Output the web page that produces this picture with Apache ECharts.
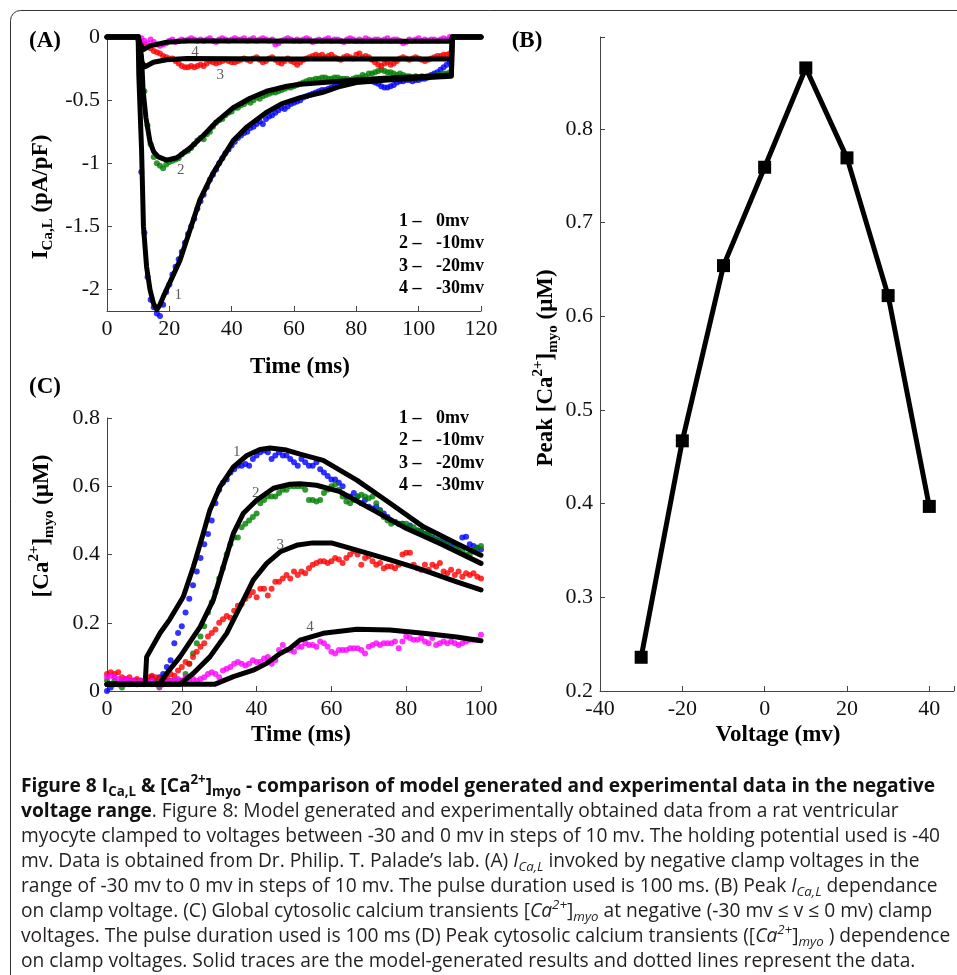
<!DOCTYPE html>
<html>
<head>
<meta charset="utf-8">
<script src="https://cdn.jsdelivr.net/npm/echarts@6/dist/echarts.min.js"></script>
<style>
  html, body { margin: 0; padding: 0; background: #fff; }
  #chart { width: 957px; height: 975px; }
</style>
</head>
<body>
<div id="chart"></div>
<script>
// ---- data ----------------------------------------------------------
const labelsA = ['1 –', '2 –', '3 –', '4 –'];
const voltsA = ['0mv', '-10mv', '-20mv', '-30mv'];

// (A) model I_Ca,L traces, [time ms, pA/pF]
const modelA0 = [[0,0],[10,0],[10.2,-0.3],[11.1,-0.9],[11.7,-1.5],[12.7,-1.82],[13.8,-2.0],[14.9,-2.11],[16,-2.16],[17,-2.12],[18,-2.06],[19.1,-2.0],[21,-1.9],[23.4,-1.77],[26.6,-1.53],[29.8,-1.29],[34,-1.08],[38,-0.92],[40.5,-0.82],[45,-0.71],[51,-0.6],[56,-0.53],[62,-0.48],[69,-0.44],[75,-0.39],[80,-0.36],[90,-0.34],[100,-0.325],[110.5,-0.31],[110.8,0],[120,0]];
const modelA10 = [[0,0],[10,0],[10.6,-0.01],[11.1,-0.17],[11.6,-0.43],[12.5,-0.64],[13.8,-0.83],[15,-0.91],[16.5,-0.95],[19.1,-0.975],[22.4,-0.956],[26.6,-0.88],[30.9,-0.78],[35.2,-0.67],[40.5,-0.56],[45.9,-0.485],[51.2,-0.43],[57.7,-0.39],[62,-0.375],[69.4,-0.36],[80,-0.34],[90,-0.325],[100,-0.315],[110.5,-0.3],[110.8,0],[120,0]];
const modelA20 = [[0,0],[10,0],[10.5,-0.05],[11.2,-0.2],[12.2,-0.235],[14.9,-0.2],[19.1,-0.18],[25.6,-0.17],[40,-0.172],[60,-0.174],[80,-0.175],[110.5,-0.175],[110.8,0],[120,0]];
const modelA30 = [[0,0],[10,0],[10.5,-0.05],[11.7,-0.1],[13.8,-0.07],[19.1,-0.042],[25,-0.032],[50,-0.032],[80,-0.033],[110.5,-0.033],[110.8,0],[120,0]];

// (A) measured points, one per ms from 10 to 110
const timeDotsA = [
  10,11,12,13,14,15,16,17,18,19, 20,21,22,23,24,25,26,27,28,29,
  30,31,32,33,34,35,36,37,38,39, 40,41,42,43,44,45,46,47,48,49,
  50,51,52,53,54,55,56,57,58,59, 60,61,62,63,64,65,66,67,68,69,
  70,71,72,73,74,75,76,77,78,79, 80,81,82,83,84,85,86,87,88,89,
  90,91,92,93,94,95,96,97,98,99, 100,101,102,103,104,105,106,107,108,109,110
];
const dotsA0 = [
  0,-1.07,-1.55,-1.9,-2.08,-2.14,-2.19,-2.21,-2.12,-2.02,
  -1.96,-1.88,-1.82,-1.76,-1.7,-1.63,-1.56,-1.5,-1.44,-1.36,
  -1.3,-1.25,-1.19,-1.13,-1.09,-1.05,-1.0,-0.96,-0.92,-0.89,
  -0.86,-0.83,-0.8,-0.78,-0.76,-0.75,-0.72,-0.71,-0.69,-0.67,
  -0.69,-0.65,-0.63,-0.62,-0.6,-0.58,-0.56,-0.57,-0.55,-0.53,
  -0.52,-0.51,-0.5,-0.48,-0.47,-0.46,-0.45,-0.44,-0.43,-0.42,
  -0.42,-0.41,-0.4,-0.39,-0.38,-0.38,-0.37,-0.37,-0.36,-0.35,
  -0.34,-0.35,-0.33,-0.34,-0.35,-0.35,-0.36,-0.37,-0.39,-0.4,
  -0.4,-0.39,-0.38,-0.36,-0.35,-0.35,-0.34,-0.34,-0.35,-0.34,
  -0.34,-0.33,-0.33,-0.32,-0.3,-0.29,-0.28,-0.26,-0.24,-0.22,-0.2
];
const dotsA10 = [
  -0.02,-0.25,-0.43,-0.7,-0.85,-0.95,-1.0,-1.02,-1.04,-1.01,
  -0.99,-0.98,-0.97,-0.96,-0.93,-0.91,-0.9,-0.88,-0.85,-0.82,
  -0.8,-0.81,-0.77,-0.75,-0.71,-0.68,-0.66,-0.65,-0.62,-0.6,
  -0.59,-0.56,-0.56,-0.54,-0.53,-0.51,-0.52,-0.5,-0.48,-0.49,
  -0.47,-0.46,-0.45,-0.44,-0.44,-0.43,-0.42,-0.41,-0.4,-0.4,
  -0.39,-0.38,-0.37,-0.36,-0.35,-0.34,-0.34,-0.33,-0.33,-0.32,
  -0.32,-0.33,-0.33,-0.32,-0.32,-0.33,-0.33,-0.33,-0.34,-0.33,
  -0.32,-0.32,-0.3,-0.31,-0.29,-0.29,-0.28,-0.27,-0.26,-0.27,
  -0.28,-0.28,-0.29,-0.3,-0.29,-0.3,-0.31,-0.31,-0.32,-0.31,
  -0.32,-0.31,-0.32,-0.31,-0.31,-0.31,-0.3,-0.3,-0.29,-0.29,-0.28
];
const dotsA20 = [
  0,-0.05,-0.06,-0.08,-0.09,-0.11,-0.12,-0.13,-0.15,-0.16,
  -0.17,-0.17,-0.19,-0.21,-0.23,-0.24,-0.24,-0.23,-0.24,-0.23,
  -0.22,-0.23,-0.21,-0.19,-0.2,-0.21,-0.2,-0.19,-0.18,-0.19,
  -0.2,-0.2,-0.19,-0.18,-0.17,-0.18,-0.19,-0.17,-0.16,-0.18,
  -0.2,-0.19,-0.17,-0.16,-0.18,-0.2,-0.21,-0.19,-0.17,-0.19,
  -0.2,-0.22,-0.2,-0.18,-0.17,-0.16,-0.15,-0.14,-0.15,-0.14,
  -0.16,-0.15,-0.14,-0.16,-0.17,-0.18,-0.16,-0.15,-0.16,-0.17,
  -0.14,-0.13,-0.16,-0.15,-0.16,-0.18,-0.2,-0.22,-0.23,-0.21,
  -0.2,-0.22,-0.21,-0.19,-0.17,-0.16,-0.17,-0.18,-0.17,-0.16,
  -0.17,-0.18,-0.19,-0.18,-0.17,-0.16,-0.15,-0.15,-0.14,-0.14,-0.13
];
const dotsA30 = [
  0,-0.01,-0.03,-0.05,-0.02,-0.04,-0.06,-0.07,-0.06,-0.05,
  -0.03,-0.02,-0.04,-0.03,-0.02,-0.03,-0.02,-0.01,-0.02,-0.03,
  -0.02,-0.03,-0.02,-0.01,-0.03,-0.04,-0.02,-0.01,-0.02,-0.03,
  -0.02,-0.01,-0.02,-0.02,-0.01,-0.03,-0.02,-0.01,-0.03,-0.02,
  -0.01,-0.02,-0.03,-0.02,-0.06,-0.05,-0.03,-0.02,-0.01,-0.02,
  -0.03,-0.02,-0.03,-0.02,-0.01,-0.02,-0.04,-0.03,-0.02,-0.03,
  -0.02,-0.01,-0.03,-0.02,-0.02,-0.03,-0.04,-0.02,-0.01,-0.02,
  -0.03,-0.02,-0.03,-0.01,-0.02,-0.03,-0.02,-0.02,-0.03,-0.02,
  -0.01,-0.03,-0.02,-0.02,-0.03,-0.05,-0.04,-0.02,-0.03,-0.02,
  -0.01,-0.03,-0.02,-0.03,-0.02,-0.02,-0.03,-0.02,-0.01,-0.02,0
];

// (B) peak [Ca2+]myo vs clamp voltage
const voltagesB = [-30, -20, -10, 0, 10, 20, 30, 40];
const peakCaB = [0.236, 0.467, 0.654, 0.759, 0.865, 0.769, 0.622, 0.397];

// (C) model [Ca2+]myo traces, [time ms, uM]
const modelC0 = [[0,0.02],[10.2,0.02],[10.6,0.1],[14.2,0.17],[16.8,0.21],[20.4,0.276],[23.1,0.364],[25.7,0.46],[27.5,0.53],[30.2,0.598],[33.8,0.657],[37.4,0.69],[40.9,0.708],[43.6,0.712],[48,0.706],[51.6,0.694],[57.8,0.676],[66.8,0.618],[75.7,0.55],[84.6,0.481],[93.5,0.432],[100,0.398]];
const modelC10 = [[0,0.02],[14,0.02],[16,0.052],[19.5,0.1],[24.9,0.188],[28.4,0.266],[31.1,0.364],[33.8,0.462],[36.4,0.52],[40,0.559],[44.5,0.594],[48.9,0.606],[51.6,0.607],[56,0.603],[62.3,0.584],[71.2,0.53],[80.1,0.476],[89,0.432],[100,0.374]];
const modelC20 = [[0,0.02],[19.5,0.02],[23.1,0.052],[27.5,0.1],[32,0.169],[35.6,0.247],[39.1,0.325],[42.7,0.374],[46.3,0.408],[51,0.428],[55,0.434],[60,0.434],[66.8,0.413],[75.7,0.384],[84.6,0.354],[93.5,0.32],[100,0.296]];
const modelC30 = [[0,0.02],[28.9,0.02],[33.8,0.042],[39.1,0.061],[42.7,0.081],[46.3,0.11],[48.9,0.125],[51.6,0.149],[57.8,0.169],[66.8,0.181],[75.7,0.179],[84.6,0.169],[93.5,0.158],[100,0.147]];

// (C) measured points, one per ms from 0 to 100
const timeDotsC = [
  0,1,2,3,4,5,6,7,8,9, 10,11,12,13,14,15,16,17,18,19,
  20,21,22,23,24,25,26,27,28,29, 30,31,32,33,34,35,36,37,38,39,
  40,41,42,43,44,45,46,47,48,49, 50,51,52,53,54,55,56,57,58,59,
  60,61,62,63,64,65,66,67,68,69, 70,71,72,73,74,75,76,77,78,79,
  80,81,82,83,84,85,86,87,88,89, 90,91,92,93,94,95,96,97,98,99, 100
];
const dotsC0 = [
  0,0.01,0.02,0.02,0.03,0.03,0.03,0.03,0.02,0.03,
  0.03,0.03,0.04,0.03,0.04,0.05,0.07,0.09,0.14,0.17,
  0.19,0.23,0.27,0.31,0.35,0.39,0.43,0.46,0.5,0.55,
  0.59,0.61,0.62,0.64,0.65,0.66,0.66,0.665,0.66,0.68,
  0.69,0.7,0.705,0.7,0.68,0.69,0.7,0.69,0.69,0.68,
  0.67,0.66,0.68,0.67,0.66,0.66,0.67,0.65,0.64,0.63,
  0.62,0.62,0.61,0.6,0.57,0.57,0.58,0.57,0.55,0.56,
  0.54,0.535,0.54,0.53,0.52,0.51,0.5,0.495,0.49,0.49,
  0.48,0.485,0.47,0.47,0.466,0.46,0.46,0.45,0.445,0.44,
  0.44,0.435,0.43,0.43,0.425,0.45,0.452,0.43,0.425,0.42, 0.415
];
const dotsC10 = [
  0.03,0.02,0.03,0.02,0.01,0.02,0.02,0.03,0.03,0.03,
  0.03,0.03,0.02,0.03,0.01,0.02,0.03,0.03,0.03,0.03,
  0.03,0.05,0.08,0.11,0.14,0.16,0.19,0.23,0.26,0.29,
  0.33,0.36,0.4,0.43,0.45,0.45,0.48,0.49,0.5,0.51,
  0.52,0.55,0.56,0.57,0.57,0.57,0.58,0.59,0.59,0.6,
  0.6,0.6,0.6,0.59,0.56,0.56,0.555,0.56,0.58,0.59,
  0.6,0.605,0.59,0.57,0.555,0.55,0.56,0.57,0.575,0.57,
  0.565,0.57,0.55,0.53,0.51,0.5,0.49,0.495,0.49,0.49,
  0.49,0.48,0.48,0.47,0.47,0.46,0.46,0.45,0.44,0.44,
  0.43,0.43,0.42,0.42,0.41,0.41,0.4,0.4,0.41,0.42, 0.425
];
const dotsC20 = [
  0.05,0.055,0.05,0.055,0.04,0.035,0.04,0.03,0.035,0.03,
  0.025,0.04,0.045,0.04,0.035,0.03,0.04,0.05,0.045,0.06,
  0.07,0.085,0.08,0.1,0.115,0.13,0.14,0.16,0.17,0.18,
  0.2,0.21,0.22,0.215,0.235,0.25,0.255,0.27,0.28,0.29,
  0.275,0.3,0.3,0.28,0.3,0.32,0.32,0.33,0.34,0.33,
  0.35,0.34,0.35,0.345,0.36,0.37,0.375,0.38,0.38,0.375,
  0.38,0.39,0.385,0.375,0.39,0.4,0.41,0.4,0.37,0.39,
  0.395,0.38,0.37,0.375,0.36,0.365,0.365,0.36,0.37,0.4,
  0.405,0.405,0.37,0.36,0.355,0.37,0.355,0.37,0.365,0.375,
  0.35,0.345,0.355,0.34,0.35,0.335,0.345,0.34,0.345,0.335, 0.33
];
const dotsC30 = [
  0.04,0.045,0.04,0.035,0.03,0.035,0.03,0.03,0.025,0.03,
  0.02,0.025,0.03,0.02,0.015,0.02,0.025,0.03,0.03,0.035,
  0.03,0.04,0.03,0.035,0.03,0.035,0.04,0.05,0.055,0.05,
  0.04,0.06,0.065,0.07,0.08,0.085,0.08,0.075,0.08,0.09,
  0.085,0.085,0.095,0.1,0.08,0.09,0.12,0.135,0.12,0.12,
  0.115,0.13,0.13,0.14,0.135,0.135,0.13,0.145,0.14,0.13,
  0.115,0.11,0.12,0.12,0.12,0.125,0.125,0.125,0.12,0.11,
  0.13,0.135,0.14,0.135,0.14,0.14,0.14,0.145,0.125,0.145,
  0.16,0.155,0.15,0.15,0.155,0.145,0.14,0.155,0.135,0.14,
  0.145,0.14,0.145,0.14,0.135,0.14,0.145,0.15,0.15,0.15, 0.165
];

// curve numbers written next to the traces: [text, time, value]
const curveTagsA = [['1', 22.9, -2.04], ['2', 23.7, -1.05], ['3', 36.3, -0.3], ['4', 28.2, -0.116]];
const curveTagsC = [['1', 34.7, 0.7], ['2', 39.8, 0.58], ['3', 46.3, 0.427], ['4', 54.3, 0.186]];

const captionLines = [
  '{tb|Figure 8 I}{tbs|Ca,L}{tb| & [Ca}{tbp|2+}{tb|]}{tbs|myo}{tb| - comparison of model generated and experimental data in the negative}',
  '{tb|voltage range}{n|. Figure 8: Model generated and experimentally obtained data from a rat ventricular}',
  '{n|myocyte clamped to voltages between -30 and 0 mv in steps of 10 mv. The holding potential used is -40}',
  '{n|mv. Data is obtained from Dr. Philip. T. Palade’s lab. (A) }{it|I}{its|Ca,L}{n| invoked by negative clamp voltages in the}',
  '{n|range of -30 mv to 0 mv in steps of 10 mv. The pulse duration used is 100 ms. (B) Peak }{it|I}{its|Ca,L}{n| dependance}',
  '{n|on clamp voltage. (C) Global cytosolic calcium transients [}{it|Ca}{itp|2+}{n|]}{its|myo}{n| at negative (-30 mv ≤ v ≤ 0 mv) clamp}',
  '{n|voltages. The pulse duration used is 100 ms (D) Peak cytosolic calcium transients ([}{it|Ca}{itp|2+}{n|]}{its|myo}{n| ) dependence}',
  '{n|on clamp voltages. Solid traces are the model-generated results and dotted lines represent the data.}'
];

// ---- styling -------------------------------------------------------
const SERIF = '"Liberation Serif", "Times New Roman", serif';
const SANS = '"Open Sans", "Noto Sans", sans-serif';
const dotColors = ['#0000ff', '#008000', '#ff0000', '#ff00ff'];

const chart = echarts.init(document.getElementById('chart'), null, { renderer: 'canvas' });

function axisBase(extra){
  return Object.assign({
    type: 'value',
    axisLine: { show: true, onZero: false, lineStyle: { color: '#444', width: 1 } },
    axisTick: { show: true, inside: true, length: 5, lineStyle: { color: '#444' } },
    splitLine: { show: false },
    axisLabel: { color: '#111', fontFamily: SERIF, fontSize: 22, margin: 7 }
  }, extra);
}

function dotSeries(idx, times, vals, color){
  return {
    type: 'scatter', xAxisIndex: idx, yAxisIndex: idx,
    data: times.map((t, i) => [t, vals[i]]),
    symbol: 'circle', symbolSize: 6,
    itemStyle: { color: color },
    clip: false, silent: true, z: 2
  };
}

function modelSeries(idx, pts){
  return {
    type: 'line', xAxisIndex: idx, yAxisIndex: idx,
    data: pts, symbol: 'none', showSymbol: false,
    lineStyle: { color: '#000', width: 5, join: 'round', cap: 'round' },
    clip: false, silent: true, z: 3
  };
}

function tagSeries(idx, tags){
  return {
    type: 'scatter', xAxisIndex: idx, yAxisIndex: idx,
    data: tags.map(t => ({ value: [t[1], t[2]], name: t[0] })),
    symbolSize: 0, silent: true, z: 4,
    label: { show: true, position: 'inside', formatter: p => p.name,
             fontFamily: SERIF, fontSize: 15, color: '#333' }
  };
}

const axRich = {
  b:   { fontFamily: SERIF, fontWeight: 'bold', fontSize: 23, lineHeight: 30, fill: '#000', color: '#000' },
  sub: { fontFamily: SERIF, fontWeight: 'bold', fontSize: 15, lineHeight: 15, verticalAlign: 'bottom', fill: '#000', color: '#000' },
  sup: { fontFamily: SERIF, fontWeight: 'bold', fontSize: 15, lineHeight: 15, verticalAlign: 'top', fill: '#000', color: '#000' }
};

function label(x, y, text, font, rot){
  return {
    type: 'text', x: x, y: y, rotation: rot || 0, silent: true,
    style: { text: text, font: font, fill: '#000', align: 'center', verticalAlign: 'middle',
             textAlign: 'center', textVerticalAlign: 'middle' }
  };
}

function richLabel(x, y, text, rot){
  return {
    type: 'text', x: x, y: y, rotation: rot || 0, silent: true,
    style: { text: text, rich: axRich, fill: '#000', align: 'center', verticalAlign: 'middle',
             textAlign: 'center', textVerticalAlign: 'middle' }
  };
}

function legendBlock(top){
  const out = [];
  labelsA.forEach((l, i) => {
    const y = top + i * 22.5;
    out.push({ type: 'text', x: 399, y: y, silent: true,
      style: { text: l, font: 'bold 18px ' + SERIF, fill: '#000', align: 'left', verticalAlign: 'middle', textAlign: 'left', textVerticalAlign: 'middle' } });
    out.push({ type: 'text', x: 436, y: y, silent: true,
      style: { text: voltsA[i], font: 'bold 18px ' + SERIF, fill: '#000', align: 'left', verticalAlign: 'middle', textAlign: 'left', textVerticalAlign: 'middle' } });
  });
  return out;
}

const CAP = 19.2, CAPSUB = 13.3, CAPLH = 25;
const capRich = {
  n:   { fontFamily: SANS, fontSize: CAP, lineHeight: CAPLH, fill: '#231f20', color: '#231f20' },
  tb:  { fontFamily: SANS, fontSize: CAP, fontWeight: 'bold', lineHeight: CAPLH, fill: '#111', color: '#111' },
  tbs: { fontFamily: SANS, fontSize: CAPSUB, fontWeight: 'bold', lineHeight: CAPSUB, verticalAlign: 'bottom', fill: '#111', color: '#111' },
  tbp: { fontFamily: SANS, fontSize: CAPSUB, fontWeight: 'bold', lineHeight: CAPSUB, verticalAlign: 'top', fill: '#111', color: '#111' },
  it:  { fontFamily: SANS, fontSize: CAP, fontStyle: 'italic', lineHeight: CAPLH, fill: '#231f20', color: '#231f20' },
  its: { fontFamily: SANS, fontSize: CAPSUB, fontStyle: 'italic', lineHeight: CAPSUB, verticalAlign: 'bottom', fill: '#231f20', color: '#231f20' },
  itp: { fontFamily: SANS, fontSize: CAPSUB, fontStyle: 'italic', lineHeight: CAPSUB, verticalAlign: 'top', fill: '#231f20', color: '#231f20' }
};

const option = {
  animation: false,
  backgroundColor: '#fff',
  grid: [
    { left: 107, top: 37, width: 374, height: 274 },
    { left: 600, top: 37, width: 357, height: 654 },
    { left: 107, top: 418, width: 374, height: 273 }
  ],
  xAxis: [
    axisBase({ gridIndex: 0, min: 0, max: 120, interval: 20 }),
    axisBase({ gridIndex: 1, min: -40, max: 46, interval: 20,
      axisLabel: { color: '#111', fontFamily: SERIF, fontSize: 22, margin: 7,
        formatter: v => (Math.abs(v / 20 - Math.round(v / 20)) < 1e-6 ? String(Math.round(v)) : '') } }),
    axisBase({ gridIndex: 2, min: 0, max: 100, interval: 20 })
  ],
  yAxis: [
    axisBase({ gridIndex: 0, min: -2.17, max: 0, splitNumber: 5,
      axisLabel: { color: '#111', fontFamily: SERIF, fontSize: 22, margin: 7,
        formatter: v => (Math.abs(v * 2 - Math.round(v * 2)) < 1e-6 ? String(Math.round(v * 2) / 2) : '') } }),
    axisBase({ gridIndex: 1, min: 0.2, max: 0.898, interval: 0.1,
      axisLabel: { color: '#111', fontFamily: SERIF, fontSize: 22, margin: 7,
        formatter: v => (v > 0.85 ? '' : (Math.round(v * 10) / 10).toFixed(1)) } }),
    axisBase({ gridIndex: 2, min: 0, max: 0.8, interval: 0.2,
      axisLabel: { color: '#111', fontFamily: SERIF, fontSize: 22, margin: 7,
        formatter: v => (v === 0 ? '0' : (Math.round(v * 10) / 10).toFixed(1)) } })
  ],
  series: [
    dotSeries(0, timeDotsA, dotsA0, dotColors[0]),
    dotSeries(0, timeDotsA, dotsA10, dotColors[1]),
    dotSeries(0, timeDotsA, dotsA20, dotColors[2]),
    dotSeries(0, timeDotsA, dotsA30, dotColors[3]),
    modelSeries(0, modelA0),
    modelSeries(0, modelA10),
    modelSeries(0, modelA20),
    modelSeries(0, modelA30),
    tagSeries(0, curveTagsA),
    {
      type: 'line', xAxisIndex: 1, yAxisIndex: 1,
      data: voltagesB.map((v, i) => [v, peakCaB[i]]),
      symbol: 'rect', symbolSize: 13, showSymbol: true,
      lineStyle: { color: '#000', width: 5 },
      itemStyle: { color: '#000' },
      clip: false, silent: true, z: 3
    },
    dotSeries(2, timeDotsC, dotsC0, dotColors[0]),
    dotSeries(2, timeDotsC, dotsC10, dotColors[1]),
    dotSeries(2, timeDotsC, dotsC20, dotColors[2]),
    dotSeries(2, timeDotsC, dotsC30, dotColors[3]),
    modelSeries(2, modelC0),
    modelSeries(2, modelC10),
    modelSeries(2, modelC20),
    modelSeries(2, modelC30),
    tagSeries(2, curveTagsC)
  ],
  graphic: [
    { type: 'rect', silent: true, shape: { x: 10.5, y: 10.5, width: 1000, height: 1000, r: 10 },
      style: { fill: 'none', stroke: '#333', lineWidth: 1 } },
    label(45, 41, '(A)', 'bold 23px ' + SERIF),
    label(527, 41, '(B)', 'bold 23px ' + SERIF),
    label(45, 387, '(C)', 'bold 23px ' + SERIF),
    label(300, 367, 'Time (ms)', 'bold 23px ' + SERIF),
    label(301, 735, 'Time (ms)', 'bold 23px ' + SERIF),
    label(778, 735, 'Voltage (mv)', 'bold 23px ' + SERIF),
    richLabel(41, 197, '{b|I}{sub|Ca,L}{b| (pA/pF)}', Math.PI / 2),
    richLabel(42, 526, '{b|[Ca}{sup|2+}{b|]}{sub|myo}{b| (μM)}', Math.PI / 2),
    richLabel(546, 368, '{b|Peak [Ca}{sup|2+}{b|]}{sub|myo}{b| (μM)}', Math.PI / 2)
  ].concat(legendBlock(221), legendBlock(418), [
    { type: 'text', x: 21, y: 774, silent: true,
      style: { text: captionLines.join('\n'), rich: capRich, fill: '#231f20',
               align: 'left', verticalAlign: 'top', textAlign: 'left', textVerticalAlign: 'top' } }
  ])
};

chart.setOption(option);
window.addEventListener('resize', () => chart.resize());
</script>
</body>
</html>
